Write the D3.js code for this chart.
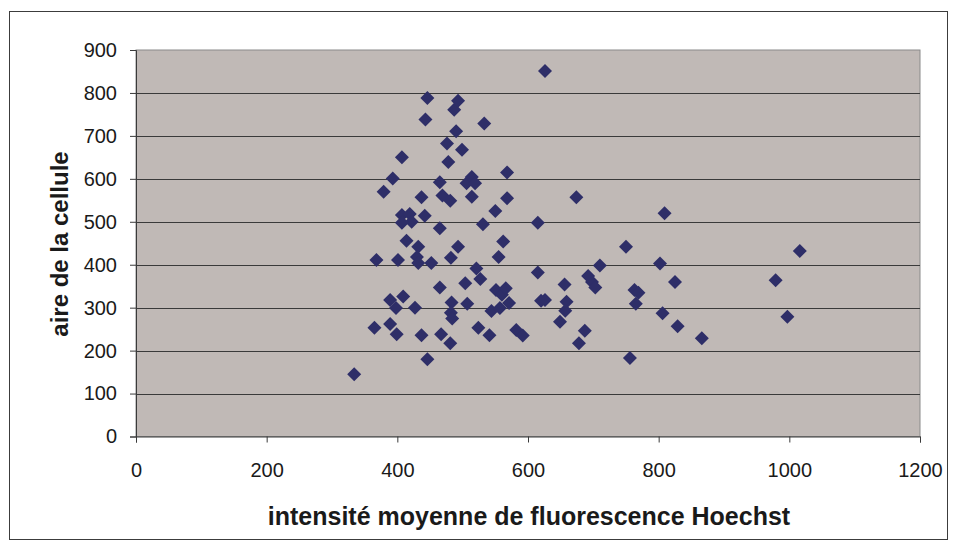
<!DOCTYPE html>
<html>
<head>
<meta charset="utf-8">
<script src="https://cdn.jsdelivr.net/npm/d3@7"></script>
<style>
  body { margin: 0; background: #fff; }
  text { font-family: "Liberation Sans", Arial, sans-serif; fill: #1a1a1a; }
</style>
</head>
<body>
<svg id="chart" width="957" height="550"></svg>
<script>
// intensité moyenne (x) et aire (y) de chaque cellule
var intensite = [334, 365, 368, 379, 389, 389, 393, 398, 399, 401,
  407, 407, 419, 422, 407, 409, 414, 427, 430, 432,
  432, 437, 437, 442, 443, 446, 446, 452, 465, 465,
  465, 467, 469, 476, 478, 481, 482, 483, 482, 484,
  481, 487, 490, 493, 493, 499, 504, 507, 506, 514,
  519, 514, 521, 527, 524, 531, 533, 541, 544, 550,
  551, 555, 557, 560, 562, 566, 568, 568, 571, 582,
  592, 615, 615, 620, 626, 626, 656, 659, 657, 649,
  674, 678, 687, 692, 698, 703, 710, 750, 756, 763,
  769, 765, 802, 806, 809, 825, 829, 866, 979, 997, 1016];
var aire = [145, 253, 411, 570, 318, 262, 601, 299, 238, 411,
  650, 516, 518, 500, 498, 326, 456, 300, 418, 404,
  442, 557, 236, 514, 738, 788, 180, 404, 592, 485,
  347, 238, 561, 682, 639, 549, 416, 312, 288, 275,
  217, 761, 711, 782, 442, 668, 357, 309, 590, 604,
  590, 558, 391, 367, 253, 494, 729, 236, 292, 525,
  341, 418, 299, 330, 454, 345, 615, 555, 311, 248,
  235, 498, 382, 316, 318, 851, 354, 314, 293, 267,
  557, 217, 246, 374, 360, 347, 398, 442, 183, 341,
  335, 309, 403, 287, 520, 360, 257, 229, 364, 279, 432];

var xTicks = [0, 200, 400, 600, 800, 1000, 1200];
var yTicks = [0, 100, 200, 300, 400, 500, 600, 700, 800, 900];

var svg = d3.select("#chart");
var plotLeft = 136, plotRight = 920, plotTop = 50, plotBottom = 436.5;

var x = d3.scaleLinear().domain([0, 1200]).range([plotLeft, plotRight]);
var y = d3.scaleLinear().domain([0, 900]).range([plotBottom, plotTop]);

// cadre extérieur
svg.append("rect")
  .attr("x", 9.5).attr("y", 11.5)
  .attr("width", 938).attr("height", 528)
  .attr("fill", "#fff").attr("stroke", "#3c3c3c");

// zone de tracé
svg.append("rect")
  .attr("x", plotLeft).attr("y", plotTop)
  .attr("width", plotRight - plotLeft).attr("height", plotBottom - plotTop)
  .attr("fill", "#c0b9b6").attr("stroke", "#8a8a8a");

// quadrillage horizontal
svg.append("g")
  .selectAll("line")
  .data(yTicks.filter(d => d > 0 && d < 900))
  .join("line")
  .attr("x1", plotLeft).attr("x2", plotRight)
  .attr("y1", d => Math.round(y(d)) + 0.5)
  .attr("y2", d => Math.round(y(d)) + 0.5)
  .attr("stroke", "#3a3a3a");

// axes
var xAxis = svg.append("g")
  .attr("transform", "translate(0," + plotBottom + ")")
  .call(d3.axisBottom(x).tickValues(xTicks).tickSize(6).tickPadding(20).tickFormat(d3.format("d")));
var yAxis = svg.append("g")
  .attr("transform", "translate(" + plotLeft + ",0)")
  .call(d3.axisLeft(y).tickValues(yTicks).tickSize(6).tickPadding(13).tickFormat(d3.format("d")));

[xAxis, yAxis].forEach(a => {
  a.select(".domain").attr("stroke", "#3a3a3a");
  a.selectAll(".tick line").attr("stroke", "#3a3a3a");
  a.selectAll(".tick text").attr("font-size", 20).attr("fill", "#1a1a1a")
    .style("font-family", "'Liberation Sans', Arial, sans-serif");
});

// points en losange
svg.append("g")
  .selectAll("path")
  .data(intensite.map((d, i) => [d, aire[i]]))
  .join("path")
  .attr("d", d3.symbol(d3.symbolSquare, 98))
  .attr("transform", d => "translate(" + x(d[0]) + "," + y(d[1]) + ") rotate(45)")
  .attr("fill", "#2e2e68");

// titres des axes
svg.append("text")
  .attr("x", 529).attr("y", 525)
  .attr("text-anchor", "middle")
  .attr("font-size", 25).attr("font-weight", "bold")
  .text("intensité moyenne de fluorescence Hoechst");

svg.append("text")
  .attr("transform", "translate(68,244) rotate(-90)")
  .attr("text-anchor", "middle")
  .attr("font-size", 24).attr("font-weight", "bold")
  .text("aire de la cellule");
</script>
</body>
</html>
